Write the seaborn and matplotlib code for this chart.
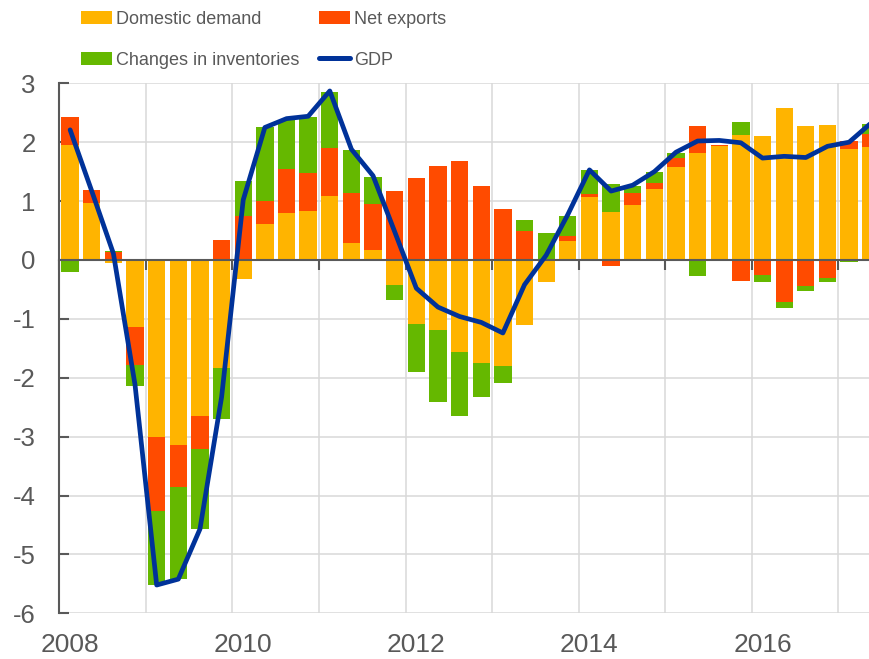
import numpy as np
import pandas as pd
import matplotlib
matplotlib.use("Agg")
import matplotlib.pyplot as plt
from matplotlib.patches import Patch
from matplotlib.lines import Line2D
from matplotlib import font_manager
import seaborn as sns

# quarterly contributions, 2008Q1 .. 2017Q2 (percentage points)
quarters = [f"{y}Q{q}" for y in range(2008, 2018) for q in range(1, 5)][:38]
domestic = [1.95, 0.97, -0.05, -1.13, -3.01, -3.15, -2.65, -1.84, -0.32, 0.61,
            0.80, 0.84, 1.08, 0.29, 0.17, -0.42, -1.09, -1.19, -1.57, -1.75,
            -1.80, -1.11, -0.37, 0.33, 1.07, 0.81, 0.93, 1.20, 1.58, 1.82,
            1.93, 2.12, 2.11, 2.58, 2.27, 2.30, 1.88, 1.91]
net_exports = [0.47, 0.21, 0.13, -0.65, -1.25, -0.70, -0.56, 0.34, 0.75, 0.39,
               0.74, 0.63, 0.82, 0.85, 0.78, 1.17, 1.40, 1.60, 1.68, 1.26,
               0.86, 0.50, 0.00, 0.08, 0.05, -0.11, 0.20, 0.11, 0.16, 0.45,
               0.03, -0.36, -0.25, -0.72, -0.44, -0.31, 0.14, 0.23]
inventories = [-0.21, 0.00, 0.02, -0.36, -1.26, -1.57, -1.36, -0.86, 0.59, 1.25,
               0.84, 0.96, 0.96, 0.73, 0.46, -0.26, -0.81, -1.23, -1.08, -0.57,
               -0.29, 0.18, 0.45, 0.34, 0.40, 0.48, 0.13, 0.18, 0.07, -0.27,
               0.00, 0.23, -0.13, -0.09, -0.09, -0.07, -0.03, 0.17]
gdp = [2.21, 1.17, 0.11, -2.12, -5.52, -5.42, -4.57, -2.33, 1.02, 2.25,
       2.40, 2.44, 2.87, 1.88, 1.43, 0.48, -0.48, -0.80, -0.96, -1.06,
       -1.24, -0.42, 0.08, 0.77, 1.53, 1.17, 1.27, 1.50, 1.83, 2.02,
       2.03, 1.99, 1.73, 1.76, 1.74, 1.93, 2.00, 2.32]
year_labels = ["2008", "2010", "2012", "2014", "2016"]
y_ticks = [-6, -5, -4, -3, -2, -1, 0, 1, 2, 3]

YELLOW = "#FFB400"
RED = "#FF4B00"
GREEN = "#65B800"
BLUE = "#003299"
GREY = "#595959"
GRID = "#D9D9D9"

sns.set_theme(style="white")
plt.rcParams["font.family"] = ["Liberation Sans", "DejaVu Sans"]
plt.rcParams["axes.unicode_minus"] = False

df = pd.DataFrame({"quarter": quarters, "Domestic demand": domestic,
                   "Net exports": net_exports,
                   "Changes in inventories": inventories, "GDP": gdp})
df["pos"] = np.arange(len(df))

W, H = 869, 659
fig = plt.figure(figsize=(W / 100, H / 100), dpi=100)
ax = fig.add_axes([59.3 / W, 1 - 613.3 / H, 1 - 59.3 / W, (613.3 - 83.3) / H])

# stacked bars: positives go up from zero, negatives go down
components = [("Domestic demand", YELLOW), ("Net exports", RED),
              ("Changes in inventories", GREEN)]
up = np.zeros(len(df))
down = np.zeros(len(df))
for col, color in components:
    v = df[col].to_numpy()
    base = np.where(v >= 0, up, down)
    ax.bar(df["pos"], v, bottom=base, width=0.8, color=color,
           linewidth=0, zorder=2)
    up += np.clip(v, 0, None)
    down += np.clip(v, None, 0)

sns.lineplot(data=df, x="pos", y="GDP", color=BLUE, lw=3.4, ax=ax,
             zorder=4, legend=False)

ax.set_xlim(-0.5, 36.92)
ax.set_ylim(-6, 3)
ax.set_xlabel("")
ax.set_ylabel("")

# year boundaries: grid + small ticks on the zero line
ax.set_xticks(np.arange(-0.5, len(df), 4))
ax.set_yticks(y_ticks)
ax.set_axisbelow(True)
ax.grid(True, color=GRID, lw=1.1)
ax.spines["top"].set_visible(False)
ax.spines["right"].set_visible(False)
ax.spines["bottom"].set_position(("data", 0))
for s in ("left", "bottom"):
    ax.spines[s].set_color(GREY)
    ax.spines[s].set_linewidth(1.5)
ax.tick_params(axis="x", direction="out", length=7, width=1.5, color=GREY,
               bottom=True, labelbottom=False)
ax.tick_params(axis="y", direction="in", length=7, width=1.5, color=GREY,
               left=True, labelsize=18.5, labelcolor=GREY, pad=17)

sec = ax.secondary_xaxis("bottom")
sec.set_xticks([0, 8, 16, 24, 32], year_labels)
sec.tick_params(length=0, labelsize=19, labelcolor=GREY, pad=14)
sec.spines["bottom"].set_visible(False)

# legend, two columns
names = {f.name for f in font_manager.fontManager.ttflist}
if "Liberation Sans Narrow" in names:
    leg_prop = font_manager.FontProperties(family="Liberation Sans Narrow", size=15)
else:
    leg_prop = font_manager.FontProperties(family="Liberation Sans", size=13)
fs = leg_prop.get_size() * 100 / 72
leg_kw = dict(loc="upper left", frameon=False, prop=leg_prop, labelcolor=GREY,
              handlelength=31 / fs, handleheight=13 / fs, handletextpad=4 / fs,
              labelspacing=(39 - 0.86 * fs) / fs, borderpad=0, borderaxespad=0)
top = (19 - 0.43 * fs) / H
fig.legend([Patch(facecolor=YELLOW, edgecolor="none"),
            Patch(facecolor=GREEN, edgecolor="none")],
           ["Domestic demand", "Changes in inventories"],
           bbox_to_anchor=(81 / W, 1 - top), **leg_kw)
fig.legend([Patch(facecolor=RED, edgecolor="none"),
            Line2D([], [], color=BLUE, lw=3.6)],
           ["Net exports", "GDP"],
           bbox_to_anchor=(319 / W, 1 - top), **leg_kw)

fig.savefig("out.png", dpi=100)
